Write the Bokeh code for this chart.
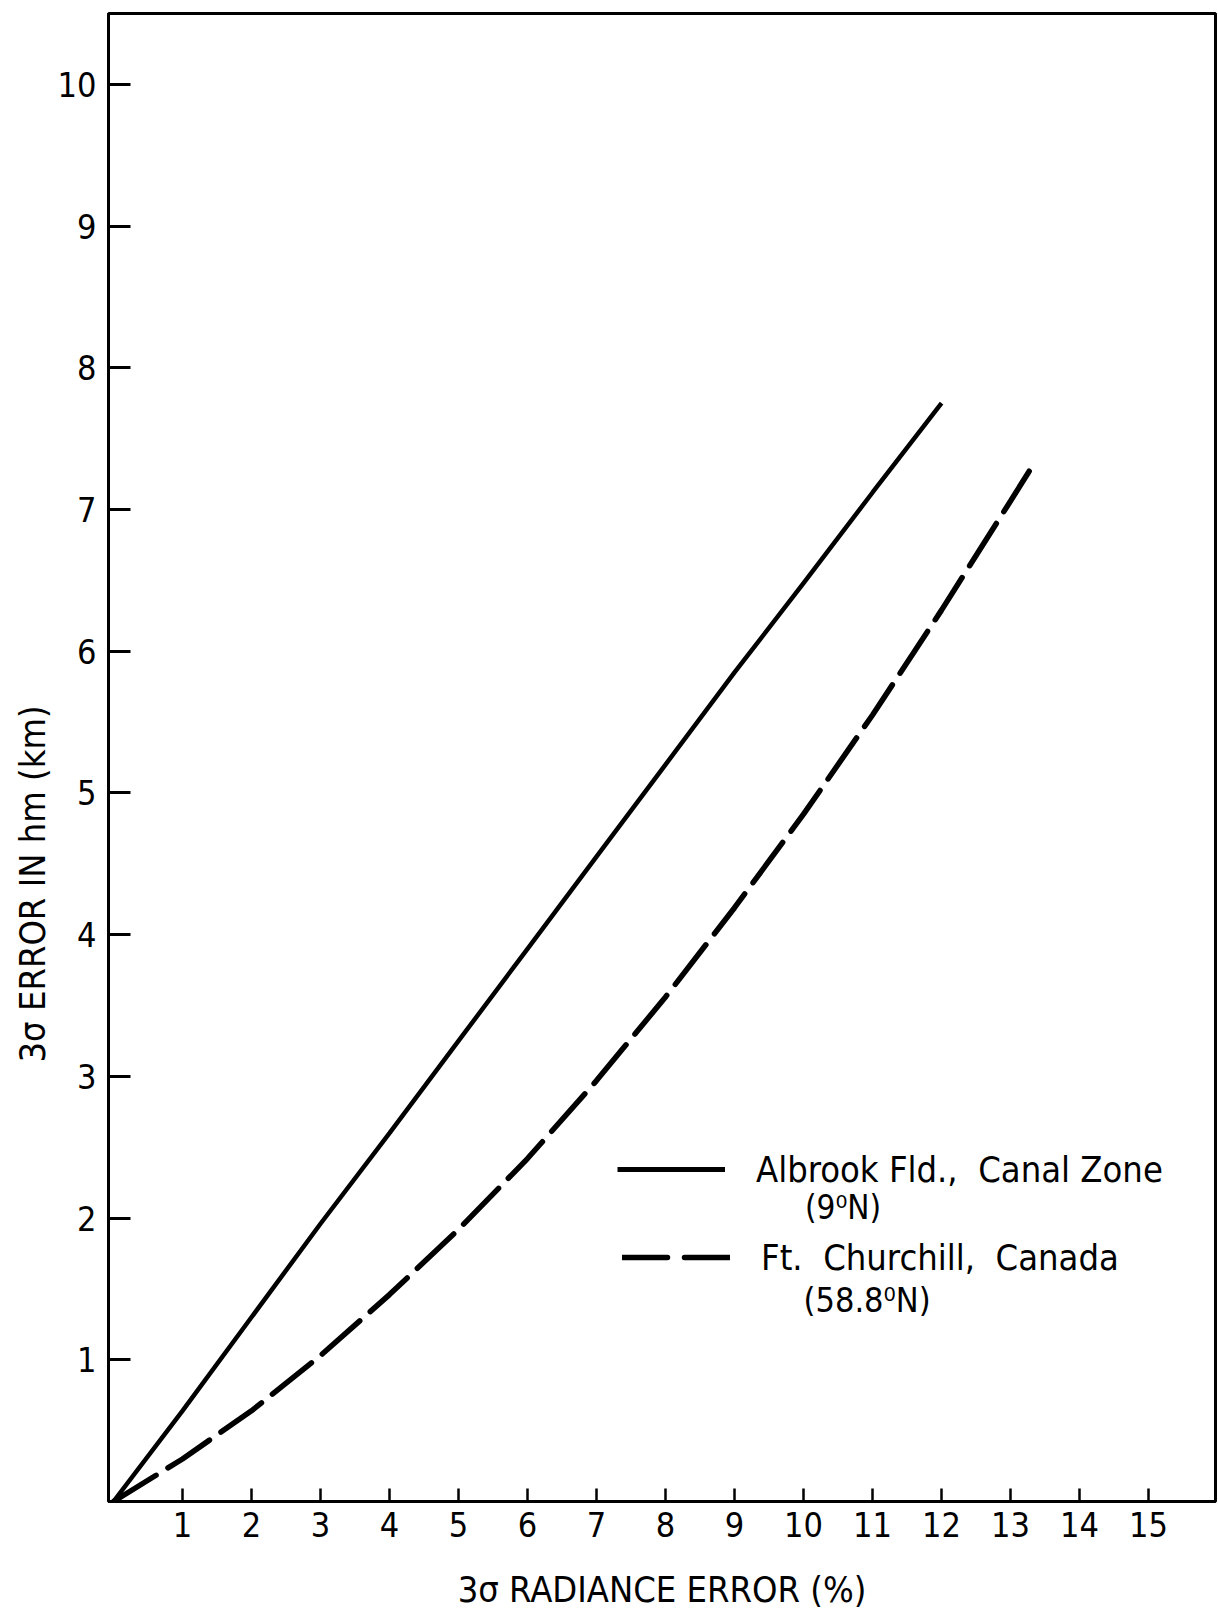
from bokeh.plotting import figure
from bokeh.models import Range1d, FixedTicker, Label, Legend, LegendItem, Title
from bokeh.embed import file_html
from bokeh.resources import INLINE

# ---------------- data ----------------
x_ticks = [1, 2, 3, 4, 5, 6, 7, 8, 9, 10, 11, 12, 13, 14, 15]
y_ticks = [1, 2, 3, 4, 5, 6, 7, 8, 9, 10]

# Albrook Fld., Canal Zone (9 N)  - solid
albrook_x = [0, 1, 2, 3, 4, 5, 6, 7, 8, 9, 10, 11, 12]
albrook_y = [0, 0.64, 1.30, 1.96, 2.60, 3.25, 3.90, 4.55, 5.20, 5.85, 6.48, 7.12, 7.75]

# Ft. Churchill, Canada (58.8 N) - dashed
churchill_x = [0, 1, 2, 3, 4, 5, 6, 7, 8, 9, 10, 11, 12, 13, 13.27]
churchill_y = [0, 0.30, 0.64, 1.03, 1.46, 1.92, 2.42, 2.97, 3.56, 4.19, 4.85, 5.55, 6.29, 7.06, 7.27]

label_albrook = "Albrook Fld.,  Canal Zone"
label_albrook_lat = "(9\u2070N)"
label_churchill = "Ft.  Churchill,  Canada"
label_churchill_lat = "(58.8\u2070N)"
x_title = "3\u03c3 RADIANCE ERROR (%)"
y_title = "3\u03c3 ERROR IN hm (km)"

FONT = "'DejaVu Sans Condensed', 'Liberation Sans Narrow', 'Liberation Sans', sans-serif"

p = figure(width=1218, height=1614, output_backend="svg", toolbar_location=None,
           x_range=Range1d(-0.072, 15.97), y_range=Range1d(0, 10.5),
           min_border_left=108, min_border_right=3, min_border_top=13,
           min_border_bottom=113)
p.background_fill_color = "white"
p.border_fill_color = "white"
p.outline_line_color = "black"
p.outline_line_width = 3
p.grid.visible = False

for ax in (p.xaxis[0], p.yaxis[0]):
    ax.axis_line_color = "black"
    ax.axis_line_width = 3
    ax.major_tick_line_color = "black"
    ax.minor_tick_line_color = None
    ax.major_tick_out = 0
    ax.major_label_text_font = FONT
    ax.major_label_text_font_size = "34px"
    ax.major_label_text_color = "black"

p.xaxis.ticker = FixedTicker(ticks=x_ticks)
p.yaxis.ticker = FixedTicker(ticks=y_ticks)
p.xaxis.major_tick_in = 13
p.xaxis.major_tick_line_width = 2.5
p.yaxis.major_tick_in = 22
p.yaxis.major_tick_line_width = 3
p.xaxis.major_label_standoff = 10
p.yaxis.major_label_standoff = 12

p.xaxis.axis_label = x_title
p.xaxis.axis_label_text_font = FONT
p.xaxis.axis_label_text_font_size = "36px"
p.xaxis.axis_label_text_font_style = "normal"
p.xaxis.axis_label_text_color = "black"
p.xaxis.axis_label_standoff = 29

r_alb = p.line(albrook_x, albrook_y, line_color="black", line_width=4.5)
r_fc = p.line(churchill_x, churchill_y, line_color="black", line_width=5.5,
              line_dash="50 14", line_cap="round")

# legend sample renderers (single point: nothing drawn in the plot)
r_leg_alb = p.line(x=[albrook_x[0]], y=[albrook_y[0]], line_color="black", line_width=5)
r_leg_fc = p.line(x=[churchill_x[0]], y=[churchill_y[0]], line_color="black", line_width=5.5,
                  line_dash="45 17", line_cap="round")


def make_legend(item, loc):
    return Legend(items=[item], location=loc, glyph_width=108, glyph_height=44,
                  label_height=44, label_standoff=31, padding=0, margin=0,
                  spacing=0, background_fill_alpha=0, border_line_color=None,
                  label_text_font=FONT, label_text_font_size="36px",
                  label_text_color="black")


p.add_layout(make_legend(LegendItem(label=label_albrook, renderers=[r_leg_alb]), (509, 310)))
p.add_layout(make_legend(LegendItem(label=label_churchill, renderers=[r_leg_fc]), (514, 222)))

p.add_layout(Label(x=10.02, y=2.075, text=label_albrook_lat, text_font=FONT,
                   text_font_size="33px", text_align="left", text_baseline="middle",
                   text_color="black"))
p.add_layout(Label(x=10.0, y=1.425, text=label_churchill_lat, text_font=FONT,
                   text_font_size="34px", text_align="left", text_baseline="middle",
                   text_color="black"))

yt = Title(text=y_title, align="left", offset=439, standoff=4,
           text_font=FONT, text_font_size="36px", text_font_style="normal",
           text_color="black")
p.add_layout(yt, "left")

open("out.html", "w").write(file_html(p, INLINE))
